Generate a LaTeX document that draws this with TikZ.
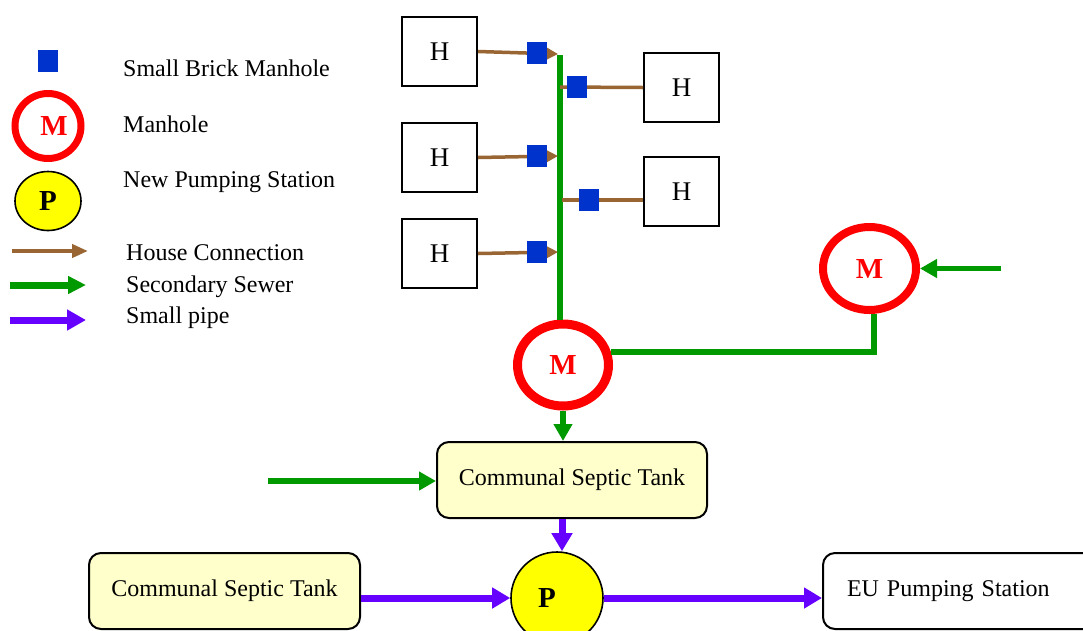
\documentclass[tikz,border=0pt]{standalone}
\usepackage{fontspec}
\setmainfont{Liberation Serif}
\usetikzlibrary{arrows.meta,shapes.geometric}
\definecolor{mhred}{RGB}{255,0,0}
\definecolor{sewgreen}{RGB}{0,153,0}
\definecolor{hcbrown}{RGB}{153,102,51}
\definecolor{bmblue}{RGB}{0,51,204}
\definecolor{pipepurple}{RGB}{102,0,255}
\definecolor{pumpyellow}{RGB}{255,255,0}
\definecolor{tankfill}{RGB}{255,255,204}
\begin{document}
\begin{tikzpicture}[x=1pt,y=-1pt,
  legtxt/.style={font=\fontsize{24}{28}\selectfont, anchor=base west, inner sep=0},
  house/.style={draw, line width=2pt, minimum width=75pt, minimum height=69pt, inner sep=0, font=\fontsize{27}{30}\selectfont},
  brick/.style={fill=bmblue, minimum width=20pt, minimum height=22pt, inner sep=0},
  manhole/.style={ellipse, draw=mhred, text=mhred, inner sep=0, font=\bfseries\fontsize{29}{32}\selectfont},
  pump/.style={ellipse, draw=black, fill=pumpyellow, line width=1.6pt, inner sep=0, font=\bfseries\fontsize{29}{32}\selectfont},
  tank/.style={draw, line width=2pt, rounded corners=12pt, fill=tankfill, minimum width=270pt, minimum height=76pt, inner sep=0, font=\fontsize{24}{28}\selectfont},
  station/.style={draw, line width=2pt, rounded corners=12pt, fill=white, minimum height=76pt, text width=232pt, align=left, inner xsep=24pt, inner ysep=0, font=\fontsize{24}{28}\selectfont},
  hc/.style={draw=hcbrown, line width=3.5pt},
  hcarrow/.style={hc, -{Triangle[length=11pt,width=11pt]}},
  sew/.style={draw=sewgreen, line width=5.5pt},
  sewarrow/.style={sew, -{Triangle[length=17pt,width=18pt]}},
  pipearrow/.style={draw=pipepurple, line width=7pt, -{Triangle[length=18pt,width=20pt]}}
]
\clip (0,0) rectangle (1083,630);
\fill[white] (0,0) rectangle (1083,630);

% ---------- legend ----------
\node[brick] (lsq) at (48,61) {};
\node[legtxt] (tsq) at (123,76) {Small Brick Manhole};
\node[manhole, line width=7pt, minimum width=66pt, minimum height=65pt] (lmh) at (48,126) {\kern12pt M};
\node[legtxt] (tmh) at (123,132) {Manhole};
\node[pump, minimum width=66pt, minimum height=59pt] (lpump) at (48,201) {P};
\node[legtxt] (tpump) at (123,187) {New Pumping Station};
\coordinate (lb1) at (12,251); \coordinate (lb2) at (88,251);
\draw[hc, line width=4pt, -{Triangle[length=16pt,width=13pt]}] (lb1) -- (lb2);
\node[legtxt] (thc) at (126,260) {House Connection};
\coordinate (lg1) at (10,285); \coordinate (lg2) at (86,285);
\draw[sew, line width=7pt, -{Triangle[length=18pt,width=17pt]}] (lg1) -- (lg2);
\node[legtxt] (tsew) at (126,292) {Secondary Sewer};
\coordinate (lp1) at (10,320); \coordinate (lp2) at (86,320);
\draw[pipearrow, -{Triangle[length=19pt,width=20pt]}] (lp1) -- (lp2);
\node[legtxt] (tpipe) at (126,323) {Small pipe};

% ---------- houses ----------
\node[house] (hl1) at (439.5,51.5) {H};
\node[house] (hl2) at (439.5,157.5) {H};
\node[house] (hl3) at (439.5,253.5) {H};
\node[house] (hr1) at (681.5,87.5) {H};
\node[house] (hr2) at (681.5,191.5) {H};

% ---------- manholes, tanks, pump ----------
\node[manhole, line width=9pt, minimum width=91pt, minimum height=82pt] (mh) at (563,365) {\raisebox{-5pt}{M}};
\node[manhole, line width=8pt, minimum width=93pt, minimum height=83pt] (mhr) at (869.5,268.5) {\raisebox{-5pt}{M}};
\node[tank] (tank1) at (572,480) {Communal Septic Tank};
\node[tank, minimum width=271pt] (tank2) at (224.5,591) {Communal Septic Tank};
\node[pump, minimum width=92pt, minimum height=92pt] (pump) at (557,598) {P\kern20pt};
\node[station, anchor=west] (eu) at (822,591) {EU Pumping Station};

% ---------- sewer line and house connections ----------
\coordinate (jtop) at (560,55);
\coordinate (j1) at (558,54);
\coordinate (j2) at (558,156);
\coordinate (j3) at (558,252);
\coordinate (j4) at (560,87);
\coordinate (j5) at (562,200);
\draw[sew] (jtop) -- (jtop |- mh.north);
\draw[hcarrow] (hl1.east) -- node[brick, pos=0.74] (b1) {} (j1);
\draw[hcarrow] (hl2.east) -- node[brick, pos=0.74] (b2) {} (j2);
\draw[hcarrow] (hl3.east) -- node[brick, pos=0.74] (b3) {} (j3);
\draw[hc] (j4) -- node[brick, pos=0.2] (b4) {} (hr1.west);
\draw[hc] (j5) -- node[brick, pos=0.33] (b5) {} (hr2.west |- j5);

% ---------- secondary sewers ----------
\coordinate (bendx) at (874,0);
\draw[sew] (mh.15) -- (mh.15 -| bendx) -- (bendx |- mhr.south);
\coordinate (rin) at (1001,268.5);
\draw[sewarrow] (rin) -- (mhr.east);
\draw[sewarrow] (mh.south) -- (mh.south |- tank1.north);
\coordinate (lin) at (268,481);
\draw[sewarrow] (lin) -- (lin -| tank1.west);

% ---------- small pipes ----------
\coordinate (pipex) at (562,0);
\draw[pipearrow] (pipex |- tank1.south) -- (pipex |- pump.north);
\draw[pipearrow] (tank2.east |- pump.west) -- (pump.west);
\draw[pipearrow] (pump.east) -- (pump.east -| eu.west);
\end{tikzpicture}
\end{document}
